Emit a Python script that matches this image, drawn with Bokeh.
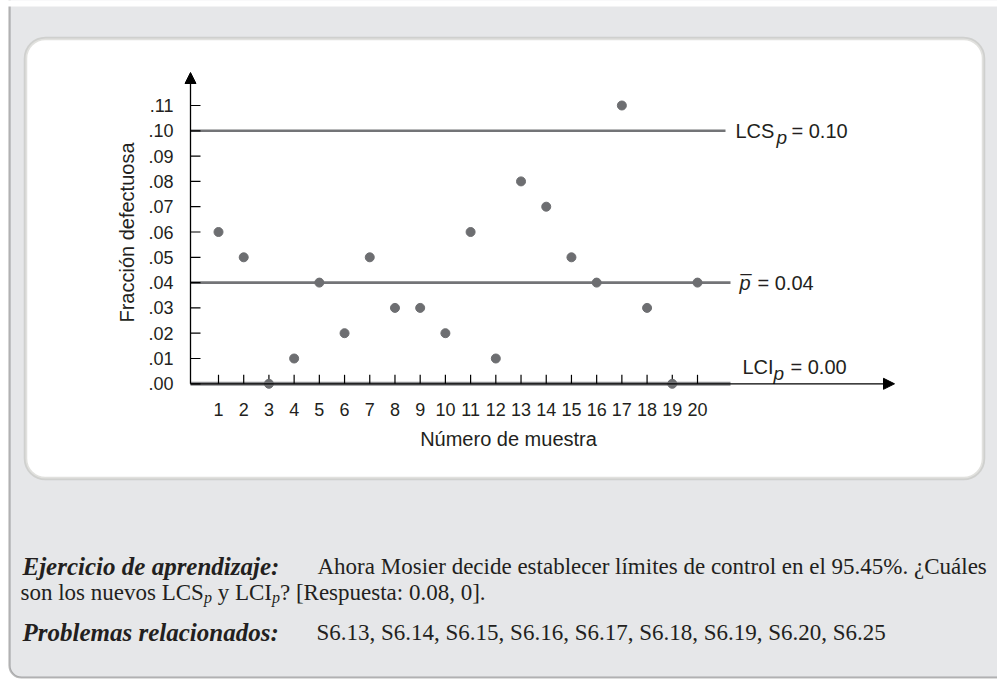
import math
from bokeh.plotting import figure
from bokeh.models import Range1d, BoxAnnotation, Arrow, NormalHead
from bokeh.core.properties import value
from bokeh.embed import file_html
from bokeh.resources import INLINE

# ---------------- data ----------------
samples = [1, 2, 3, 4, 5, 6, 7, 8, 9, 10, 11, 12, 13, 14, 15, 16, 17, 18, 19, 20]
fraction_defective = [0.06, 0.05, 0.00, 0.01, 0.04, 0.02, 0.05, 0.03, 0.03, 0.02,
                      0.06, 0.01, 0.08, 0.07, 0.05, 0.04, 0.11, 0.03, 0.00, 0.04]
y_ticks = [0.00, 0.01, 0.02, 0.03, 0.04, 0.05, 0.06, 0.07, 0.08, 0.09, 0.10, 0.11]
y_tick_labels = [".00", ".01", ".02", ".03", ".04", ".05", ".06", ".07", ".08", ".09", ".10", ".11"]
x_tick_labels = ["1", "2", "3", "4", "5", "6", "7", "8", "9", "10",
                 "11", "12", "13", "14", "15", "16", "17", "18", "19", "20"]
ucl_p = 0.10
p_bar = 0.04
lcl_p = 0.00
ucl_value_text = "= 0.10"
center_value_text = "= 0.04"
lcl_value_text = "= 0.00"
x_title = "Número de muestra"
y_title = "Fracción defectuosa"

exercise_head = "Ejercicio de aprendizaje:"
exercise_line1 = "Ahora Mosier decide establecer límites de control en el 95.45%. ¿Cuáles"
exercise_line2 = ["son los nuevos LCS", "p", "y LCI", "p", "? [Respuesta: 0.08, 0]."]
problems_head = "Problemas relacionados:"
problems_text = "S6.13, S6.14, S6.15, S6.16, S6.17, S6.18, S6.19, S6.20, S6.25"

# ---------------- layout ----------------
W, H = 997, 679
ORG = 0
X_PX_PER = (697 - 218) / 19.0
Y_PX_PER = (383.3 - 105.0) / 0.11
x_lo = 1 - (218 - ORG) / X_PX_PER
x_hi = x_lo + W / X_PX_PER
y_hi = (383.3 - ORG) / Y_PX_PER
y_lo = y_hi - H / Y_PX_PER


def dx(px):
    return x_lo + (px - ORG) / X_PX_PER


def dy(py):
    return y_hi - (py - ORG) / Y_PX_PER


GRAY = "#e6e7e9"
PANEL_BORDER = "#9c9d91"
INK = "#231f20"
DOT = "#6d6e71"
LINE = "#737477"
SANS = "Liberation Sans"
SERIF = "Liberation Serif"

TIMES = {' ': 250, ',': 250, '.': 250, ':': 278, '?': 444, '[': 333, ']': 333, '%': 833, '¿': 444,
         '0': 500, '1': 500, '2': 500, '3': 500, '4': 500, '5': 500, '6': 500, '7': 500, '8': 500, '9': 500,
         'A': 722, 'C': 667, 'E': 611, 'I': 333, 'L': 611, 'M': 889, 'P': 556, 'R': 667, 'S': 556,
         'a': 444, 'b': 500, 'c': 444, 'd': 500, 'e': 444, 'f': 333, 'h': 500, 'i': 278, 'j': 278,
         'l': 278, 'm': 778, 'n': 500, 'o': 500, 'p': 500, 'r': 333, 's': 389, 't': 278, 'u': 500,
         'v': 500, 'y': 500, 'z': 444, 'á': 444, 'í': 278}


def tw(s, size):
    return sum(TIMES.get(c, 500) for c in s) / 1000.0 * size


p = figure(width=W, height=H, x_range=Range1d(x_lo, x_hi), y_range=Range1d(y_lo, y_hi),
           x_axis_type=None, y_axis_type=None, toolbar_location=None, output_backend="svg",
           min_border=0, title=None, background_fill_color="white", border_fill_color="white",
           outline_line_color=None)

# outer box (left + bottom black rule), white top strip, white chart panel
p.add_layout(BoxAnnotation(left=dx(9), right=dx(1040), top=dy(-200), bottom=dy(677),
                           fill_color=GRAY, fill_alpha=1, line_color="#1b1b1b", line_width=2.2,
                           border_radius=12, level="underlay"))
p.add_layout(BoxAnnotation(left=dx(-20), right=dx(1100), top=dy(-20), bottom=dy(6),
                           fill_color="white", fill_alpha=1, line_color=None, level="underlay"))
p.add_layout(BoxAnnotation(left=dx(25), right=dx(983), top=dy(38), bottom=dy(478),
                           fill_color="white", fill_alpha=1, line_color=PANEL_BORDER, line_width=3.5,
                           border_radius=20, level="underlay"))


def txt(x, y, s, size, font=SANS, style="normal", align="left", baseline="alphabetic",
        xo=0, yo=0, angle=0, color=INK):
    p.text(x=[x], y=[y], text=[s], text_font=value(font), text_font_size=f"{size}px",
           text_font_style=style, text_align=align, text_baseline=baseline,
           x_offset=xo, y_offset=yo, angle=angle, text_color=color)


ax_x = dx(190)
ucl_end = dx(725)
line_end = dx(730)

# control lines
p.segment(x0=[ax_x], y0=[lcl_p], x1=[line_end], y1=[lcl_p], line_color="#8a8b8e", line_width=4)
p.segment(x0=[ax_x], y0=[ucl_p], x1=[ucl_end], y1=[ucl_p], line_color=LINE, line_width=2.6)
p.segment(x0=[ax_x], y0=[p_bar], x1=[line_end], y1=[p_bar], line_color=LINE, line_width=2.6)

# axes with arrows
p.add_layout(Arrow(end=NormalHead(size=11, fill_color="black", line_color="black", line_width=1),
                   x_start=ax_x, y_start=0, x_end=ax_x, y_end=dy(72),
                   line_color="black", line_width=1.3))
p.add_layout(Arrow(end=NormalHead(size=11, fill_color="black", line_color="black", line_width=1),
                   x_start=ax_x, y_start=0, x_end=dx(894), y_end=0,
                   line_color="black", line_width=1.3))

# ticks
p.ray(x=[ax_x] * len(y_ticks), y=y_ticks, length=10, length_units="screen", angle=0,
      line_color="black", line_width=1.2)
p.ray(x=samples, y=[0] * len(samples), length=9, length_units="screen", angle=math.pi / 2,
      line_color="black", line_width=1.2)

# tick labels
p.text(x=[ax_x] * len(y_ticks), y=y_ticks, text=y_tick_labels, text_font=value(SANS),
       text_font_size="18px", text_align="right", text_baseline="middle", x_offset=-17,
       text_color=INK)
p.text(x=samples, y=[0] * len(samples), text=x_tick_labels, text_font=value(SANS),
       text_font_size="18px", text_align="center", text_baseline="middle", y_offset=26,
       text_color=INK)

# axis titles
txt(dx(126), dy(232), y_title, 20, align="center", baseline="middle", angle=math.pi / 2)
txt(dx(508), dy(438), x_title, 20, align="center", baseline="middle")

# points
p.scatter(x=samples, y=fraction_defective, size=9, fill_color=DOT, line_color=DOT)

# right-hand labels
txt(ucl_end, ucl_p, "LCS", 20, baseline="middle", xo=10)
txt(ucl_end, ucl_p, "p", 19, style="italic", baseline="middle", xo=51, yo=7)
txt(ucl_end, ucl_p, ucl_value_text, 20, baseline="middle", xo=66)

txt(line_end, p_bar, "p", 20, style="italic", baseline="middle", xo=9)
txt(line_end, p_bar, "¯", 20, style="italic", baseline="middle", xo=10)
txt(line_end, p_bar, center_value_text, 20, baseline="middle", xo=27)

txt(line_end, lcl_p, "LCI", 20, baseline="middle", xo=12, yo=-17)
txt(line_end, lcl_p, "p", 19, style="italic", baseline="middle", xo=43, yo=-10)
txt(line_end, lcl_p, lcl_value_text, 20, baseline="middle", xo=60, yo=-17)

# bottom text
FS = 23
HS = 25
B1, B2, B3 = 566, 592, 632
txt(dx(22), dy(B1), exercise_head, HS, font=SERIF, style="bold italic")
txt(dx(317), dy(B1), exercise_line1, FS, font=SERIF)

x2 = 20.0
txt(dx(x2), dy(B2), exercise_line2[0], FS, font=SERIF)
x2 += tw(exercise_line2[0], FS)
txt(dx(x2), dy(B2), exercise_line2[1], 16, font=SERIF, style="italic", yo=5)
x2 += 8 + tw(" ", FS)
txt(dx(x2), dy(B2), exercise_line2[2], FS, font=SERIF)
x2 += tw(exercise_line2[2], FS)
txt(dx(x2), dy(B2), exercise_line2[3], 16, font=SERIF, style="italic", yo=5)
x2 += 8
txt(dx(x2), dy(B2), exercise_line2[4], FS, font=SERIF)

txt(dx(22), dy(B3), problems_head, HS, font=SERIF, style="bold italic")
txt(dx(316), dy(B3), problems_text, FS, font=SERIF)

open("out.html", "w").write(file_html(p, INLINE))
